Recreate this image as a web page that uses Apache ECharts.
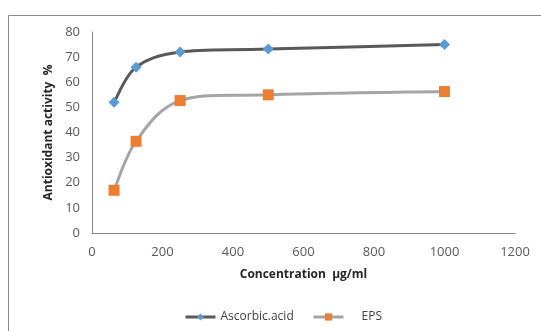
<!DOCTYPE html>
<html><head><meta charset="utf-8">
<script src="https://cdn.jsdelivr.net/npm/echarts@6/dist/echarts.min.js"></script>
<style>html,body{margin:0;padding:0;background:#fff}#c{width:541px;height:331px}</style>
</head><body><div id="c"></div>
<script>
const concentrations = [62.5, 125, 250, 500, 1000];
const ascorbicAcid = [52, 66, 72, 73.2, 75];
const eps = [17, 36.5, 52.7, 55, 56.3];
const seriesNames = ['Ascorbic.acid', 'EPS'];
const xTitle = 'Concentration  µg/ml';
const yTitle = 'Antioxidant activity  %';

const pair = (xs, ys) => xs.map((x, i) => [x, ys[i]]);
const font = 'Open Sans';
const colors = {
  asc: { line: '#595959', mark: '#5b9bd5' },
  eps: { line: '#a5a5a5', mark: '#ed7d31' }
};

// Catmull-Rom (Excel-style) smoothed curve, built from the axis scales via api.coord
function smoothCurve(ys, color) {
  return {
    type: 'custom', silent: true, z: 1,
    data: pair(concentrations, ys),
    renderItem: (params, api) => {
      if (params.dataIndex !== 0) return null;
      const pts = concentrations.map((x, i) => api.coord([x, ys[i]]));
      const n = pts.length;
      let d = 'M' + pts[0][0] + ' ' + pts[0][1];
      for (let i = 0; i < n - 1; i++) {
        const p0 = pts[Math.max(i - 1, 0)], p1 = pts[i], p2 = pts[i + 1], p3 = pts[Math.min(i + 2, n - 1)];
        const c1 = [p1[0] + (p2[0] - p0[0]) / 6, p1[1] + (p2[1] - p0[1]) / 6];
        const c2 = [p2[0] - (p3[0] - p1[0]) / 6, p2[1] - (p3[1] - p1[1]) / 6];
        d += ' C' + c1[0] + ' ' + c1[1] + ' ' + c2[0] + ' ' + c2[1] + ' ' + p2[0] + ' ' + p2[1];
      }
      return { type: 'path', shape: { pathData: d },
               style: { fill: null, stroke: color, lineWidth: 3, lineCap: 'round' } };
    }
  };
}

const chart = echarts.init(document.getElementById('c'));
chart.setOption({
  animation: false,
  backgroundColor: '#fff',
  textStyle: { fontFamily: font },
  graphic: [
    { type: 'polyline', shape: { points: [[8.5, 331], [8.5, 15.5], [541, 15.5]] },
      style: { stroke: '#8a8a8a', lineWidth: 1, fill: null } }
  ],
  grid: { left: 92, right: 26, top: 32, bottom: 98 },
  xAxis: {
    type: 'value', min: 0, max: 1200, interval: 200,
    name: xTitle, nameLocation: 'middle', nameGap: 36,
    nameTextStyle: { fontFamily: font, fontWeight: 'bold', fontSize: 12, color: '#262626' },
    axisLine: { show: true, lineStyle: { color: '#868686' } },
    axisTick: { show: false },
    splitLine: { show: false },
    axisLabel: { fontFamily: font, fontSize: 13, color: '#595959', margin: 13,
                 formatter: v => String(v) }
  },
  yAxis: {
    type: 'value', min: 0, max: 80, interval: 10,
    name: yTitle, nameLocation: 'middle', nameGap: 36,
    nameTextStyle: { fontFamily: font, fontWeight: 'bold', fontSize: 12, color: '#262626' },
    axisLine: { show: true, lineStyle: { color: '#868686' } },
    axisTick: { show: false },
    splitLine: { show: false },
    axisLabel: { fontFamily: font, fontSize: 13, color: '#595959', margin: 12 }
  },
  legend: [
    { left: 179, top: 306, itemWidth: 30, itemHeight: 9,
      data: [seriesNames[0]],
      lineStyle: { color: colors.asc.line, width: 3, opacity: 1 },
      textStyle: { fontFamily: font, fontSize: 12, color: '#404040' } },
    { left: 307, top: 306, itemWidth: 30, itemHeight: 9,
      data: [seriesNames[1]],
      lineStyle: { color: colors.eps.line, width: 3, opacity: 1 },
      textStyle: { fontFamily: font, fontSize: 12, color: '#404040', padding: [0, 0, 0, 13] } }
  ],
  series: [
    smoothCurve(ascorbicAcid, colors.asc.line),
    smoothCurve(eps, colors.eps.line),
    { name: seriesNames[0], type: 'line', z: 3,
      data: pair(concentrations, ascorbicAcid),
      symbol: 'diamond', symbolSize: 11,
      lineStyle: { color: colors.asc.line, width: 3, opacity: 0 },
      itemStyle: { color: colors.asc.mark } },
    { name: seriesNames[1], type: 'line', z: 3,
      data: pair(concentrations, eps),
      symbol: 'rect', symbolSize: 11,
      lineStyle: { color: colors.eps.line, width: 3, opacity: 0 },
      itemStyle: { color: colors.eps.mark } }
  ]
});
</script></body></html>
